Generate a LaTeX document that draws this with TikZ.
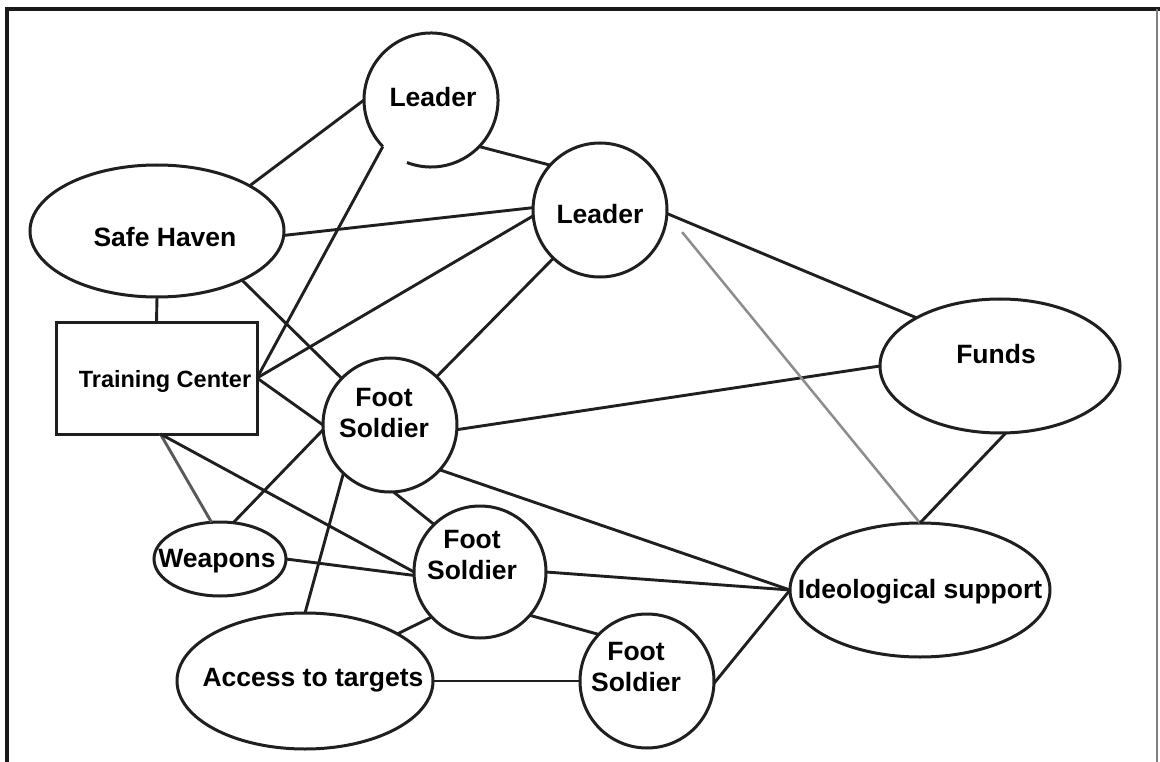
\documentclass[tikz,border=0pt]{standalone}
\usepackage{fontspec}
\setmainfont{Liberation Sans}
\usetikzlibrary{shapes.geometric}
\begin{document}
\begin{tikzpicture}[x=1pt,y=1pt,
  every node/.style={outer sep=0pt, inner sep=0pt},
  lbl/.style={font=\fontsize{26.5}{31}\selectfont\bfseries, align=center},
  tclbl/.style={font=\fontsize{23.5}{28}\selectfont\bfseries},
  border/.style={line width=3pt, draw=black!88},
  link/.style={line width=2.9pt, draw=black!88},
  faintlink/.style={line width=2.5pt, draw=black!45},
  circ/.style={circle, minimum size=#1},
  circ/.default=134,
  oval/.style={ellipse},
  framerule/.style={draw=black!90}
]
\useasboundingbox (0,0) rectangle (1160,-762);

% outer frame
\draw[framerule, line width=4pt] (5,-9) -- (1160,-9);
\draw[framerule, line width=3.5pt] (7,-9) -- (7,-762);
\draw[draw=black!50, line width=1.5pt] (1157,-9) -- (1157,-762);

% shapes
\node[circ] (l1) at (431,-100) {};
\draw[border] (l1.-111) arc[start angle=-111, delta angle=335, radius=67];
\node[circ, border] (l2) at (600,-210) {};
\node[oval, border, minimum width=254, minimum height=132] (sh) at (157,-231) {};
\node[rectangle, border, minimum width=201, minimum height=112] (tc) at (156.5,-378) {};
\node[circ, border] (fs1) at (390,-425) {};
\node[circ=132, border] (fs2) at (480,-572) {};
\node[circ, border] (fs3) at (647,-681) {};
\node[oval, border, minimum width=132, minimum height=74] (wp) at (220,-559) {};
\node[oval, border, minimum width=256, minimum height=136] (at) at (305,-681) {};
\node[oval, border, minimum width=240, minimum height=134] (fu) at (1000,-366) {};
\node[oval, border, minimum width=260, minimum height=134] (id) at (920,-590) {};

% connections
\draw[link] (l1.180) -- (sh.26);
\draw[link] (l1.-136) -- (tc.east);
\draw[link] (l1.-44) -- (l2.138);
\draw[link] (sh.-2) -- (l2.178);
\draw[link] (tc.east) -- (l2.185);
\draw[link] (fs1.46) -- (l2.-134);
\draw[link] (sh.-30) -- (fs1.136);
\draw[link] (tc.east) -- (fs1.180);
\draw[link] (wp.70) -- (fs1.184);
\draw[link, draw=black!65] (tc.-86) -- (wp.103);
\draw[link] (tc.-86) -- (fs2.180);
\draw[link] (wp.east) -- (fs2.183);
\draw[link] (at.north) -- (fs1.-134);
\draw[link] (fs1.-87) -- (fs2.134);
\draw[link] (fs1.-4) -- (fu.west);
\draw[link] (fs1.-42) -- (id.west);
\draw[link] (fs2.east) -- (id.west);
\draw[link] (fs3.-2) -- (id.west);
\draw[link] (at.east) -- (fs3.west);
\draw[link] (at.27) -- (fs2.-137);
\draw[link] (fs2.-41) -- (fs3.136);
\draw[link] (l2.-3) -- (fu.150);
\draw[faintlink, shorten <=24pt] (l2.-3) -- (id.north);
\draw[link] (fu.-85) -- (id.north);
\draw[link] (sh.south) -- (tc.north);

% labels
\node[lbl, anchor=base] (l1-t) at (433,-107) {Leader};
\node[lbl, anchor=base] (l2-t) at (600,-224) {Leader};
\node[lbl, anchor=base] (sh-t) at (165,-247) {Safe Haven};
\node[tclbl, anchor=base] (tc-t) at (165,-387) {Training Center};
\node[lbl] (fs1-t) at (384,-413) {Foot\\Soldier};
\node[lbl] (fs2-t) at (472,-555) {Foot\\Soldier};
\node[lbl] (fs3-t) at (636,-667.5) {Foot\\Soldier};
\node[lbl, anchor=base] (wp-t) at (217,-567) {Weapons};
\node[lbl, anchor=base] (at-t) at (313,-686) {Access to targets};
\node[lbl, anchor=base] (fu-t) at (996,-363) {Funds};
\node[lbl, anchor=base] (id-t) at (920,-598) {Ideological support};
\end{tikzpicture}
\end{document}
